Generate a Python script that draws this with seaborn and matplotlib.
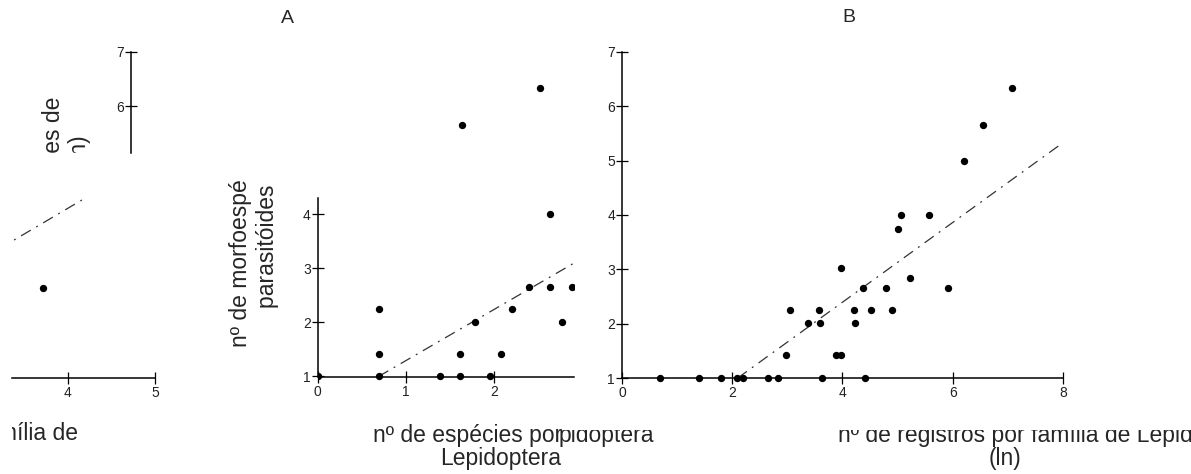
import numpy as np
import pandas as pd
import matplotlib
matplotlib.use("Agg")
import matplotlib.pyplot as plt
import seaborn as sns
from matplotlib.transforms import Bbox, TransformedBbox

# ---------------- data ----------------
# Panel A: nº de espécies por família de Lepidoptera (ln) vs nº de morfoespécies de parasitóides (ln)
a_x = [0.00, 0.69, 0.69, 0.69, 1.39, 1.61, 1.61, 1.95, 1.64, 1.79, 2.08, 2.20,
       2.40, 2.52, 2.64, 2.64, 2.77, 2.89, 3.71]
a_y = [1.00, 1.00, 1.42, 2.24, 1.00, 1.00, 1.42, 1.00, 5.64, 2.00, 1.42, 2.24,
       2.65, 6.32, 4.00, 2.65, 2.00, 2.65, 2.65]
a_fit_slope = 0.944
a_fit_intercept = 0.349
a_fit_x = [0.69, 4.17]

# Panel B: nº de registros por família de Lepidoptera (ln)
b_x = [0.69, 1.39, 1.79, 2.08, 2.20, 2.64, 2.83, 3.63, 4.41, 2.98, 3.04, 3.38,
       3.58, 3.60, 3.88, 3.98, 3.98, 4.21, 4.23, 4.38, 4.51, 4.79, 4.89, 5.01,
       5.07, 5.22, 5.57, 5.92, 6.20, 6.55, 7.08]
b_y = [1.00, 1.00, 1.00, 1.00, 1.00, 1.00, 1.00, 1.00, 1.00, 1.43, 2.245, 2.01,
       2.245, 2.01, 1.43, 1.43, 3.02, 2.245, 2.01, 2.66, 2.245, 2.66, 2.245, 3.75,
       4.00, 2.84, 4.00, 2.66, 5.00, 5.66, 6.34]
b_fit_slope = 0.734
b_fit_intercept = -0.541
b_fit_x = [2.10, 7.93]

a_xticks = [0, 1, 2]
a_yticks = [1, 2, 3, 4]
b_xticks = [0, 2, 4, 6, 8]
b_yticks = [1, 2, 3, 4, 5, 6, 7]
l_xticks = [4, 5]
l_yticks = [6, 7]

ylabel_text = "nº de morfoespécies de\nparasitóides (ln)"
xlabel_a = "nº de espécies por"
xlabel_a2 = "Lepidoptera"
xlabel_a_frag = "pidoptera"
xlabel_b = "nº de registros por família de Lepidoptera"
xlabel_b2 = "(ln)"
xlabel_left = "nº de espécies por família de"
title_a = "A"
title_b = "B"

# ---------------- style ----------------
sns.set_theme(style="white")
plt.rcParams['font.family'] = ['Liberation Sans', 'DejaVu Sans']
plt.rcParams['axes.edgecolor'] = 'black'

W, H = 1191, 474
fig = plt.figure(figsize=(W / 100, H / 100), dpi=100)
fig.patch.set_facecolor('white')

LBL = 16.5
TICKFONT = ['Liberation Sans Narrow', 'Liberation Sans', 'DejaVu Sans']


def add_axes_px(xp0, xv0, xp1, xv1, yp0, yv0, yp1, yv1, xlim, ylim):
    sx = (xp1 - xp0) / (xv1 - xv0)
    sy = (yp1 - yp0) / (yv1 - yv0)
    left = xp0 + (xlim[0] - xv0) * sx
    right = xp0 + (xlim[1] - xv0) * sx
    top = yp0 + (ylim[1] - yv0) * sy
    bottom = yp0 + (ylim[0] - yv0) * sy
    ax = fig.add_axes([left / W, 1 - bottom / H, (right - left) / W, (bottom - top) / H])
    ax.set_xlim(xlim)
    ax.set_ylim(ylim)
    ax.set_facecolor('none')
    return ax


def px_to_axes(ax, px, py):
    p = ax.get_position()
    fx, fy = px / W, 1 - py / H
    return (fx - p.x0) / p.width, (fy - p.y0) / p.height


def clip_px(artist, x0, y0, x1, y1):
    bb = Bbox.from_extents(x0 / W, 1 - y1 / H, x1 / W, 1 - y0 / H)
    artist.set_clip_box(TransformedBbox(bb, fig.transFigure))
    artist.set_clip_on(True)


def style_axes(ax, xticks, yticks, left_bounds, left_pos=None):
    ax.spines['top'].set_visible(False)
    ax.spines['right'].set_visible(False)
    ax.spines['bottom'].set_position(('data', 1))
    if left_pos is not None:
        ax.spines['left'].set_position(('data', left_pos))
    ax.spines['left'].set_bounds(*left_bounds)
    for s in ['left', 'bottom']:
        ax.spines[s].set_linewidth(1.1)
        ax.spines[s].set_color('black')
    ax.set_xticks(xticks)
    ax.set_yticks(yticks)
    ax.tick_params(axis='both', bottom=True, left=True, direction='inout',
                   length=8, width=0.9, color='black', labelsize=10,
                   labelcolor='#222222')
    ax.tick_params(axis='x', pad=2)
    ax.tick_params(axis='y', pad=1)
    for lab in ax.get_xticklabels() + ax.get_yticklabels():
        lab.set_family(TICKFONT)


line_kw = dict(color='#333333', linewidth=0.9, linestyle=(0, (9, 5, 1.5, 5)),
               estimator=None, legend=False)
pt_kw = dict(color='black', s=28, marker='o', linewidth=0, legend=False, zorder=3)

# ---------------- left partial panel ----------------
ax0 = add_axes_px(68, 4, 155, 5, 52, 7, 378, 1, (3.36, 5.0), (0.8, 7))
sns.lineplot(x=a_fit_x, y=[a_fit_intercept + a_fit_slope * v for v in a_fit_x], ax=ax0, **line_kw)
sns.scatterplot(x=a_x, y=a_y, ax=ax0, **pt_kw)
ax0.set_xlim(3.36, 5.0)
ax0.set_ylim(0.8, 7)
style_axes(ax0, l_xticks, l_yticks, (5.15, 7), left_pos=4.72)
ax0.set_ylabel(ylabel_text, fontsize=LBL, linespacing=1.2)
ax0.yaxis.set_label_coords(66.5 / W, 1 - 217 / H, transform=fig.transFigure)
ax0.yaxis.label.set(va='center', ha='center')
clip_px(ax0.yaxis.label, 0, 0, W, 153)
ax0.set_xlabel(xlabel_left, fontsize=LBL)
ax0.xaxis.set_label_coords(78 / W, 1 - 440 / H, transform=fig.transFigure)
ax0.xaxis.label.set(ha='right', va='baseline')
clip_px(ax0.xaxis.label, 12, 0, W, H)

# ---------------- panel A ----------------
axa = add_axes_px(317.7, 0, 494, 2, 376.5, 1, 214, 4, (0, 2.904), (0.8, 7))
sns.lineplot(x=a_fit_x, y=[a_fit_intercept + a_fit_slope * v for v in a_fit_x], ax=axa, **line_kw)
sns.scatterplot(x=a_x, y=a_y, ax=axa, **pt_kw)
axa.set_xlim(0, 2.904)
axa.set_ylim(0.8, 7)
style_axes(axa, a_xticks, a_yticks, (1, 4.3))
axa.set_ylabel(ylabel_text, fontsize=LBL, linespacing=1.2)
axa.yaxis.set_label_coords(254 / W, 1 - 227 / H, transform=fig.transFigure)
axa.yaxis.label.set(va='center', ha='center')
clip_px(axa.yaxis.label, 0, 180, W, H)
axa.set_xlabel(xlabel_a, fontsize=LBL)
axa.xaxis.set_label_coords(373 / W, 1 - 442 / H, transform=fig.transFigure)
axa.xaxis.label.set(ha='left', va='baseline')
tx, ty = px_to_axes(axa, 287, 18)
axa.set_title(title_a, x=tx, y=ty, va='center', ha='center', fontsize=14, pad=0)

fig.text(440 / W, 1 - 465 / H, xlabel_a2, ha='left', va='baseline', fontsize=LBL)
frag = fig.text(559 / W, 1 - 442 / H, xlabel_a_frag, ha='left', va='baseline', fontsize=LBL)
clip_px(frag, 557, 430, W, H)

# ---------------- panel B ----------------
axb = add_axes_px(622, 0, 1063, 8, 378, 1, 52, 7, (0, 8), (0.8, 7))
sns.lineplot(x=b_fit_x, y=[b_fit_intercept + b_fit_slope * v for v in b_fit_x], ax=axb, **line_kw)
sns.scatterplot(x=b_x, y=b_y, ax=axb, **pt_kw)
axb.set_xlim(0, 8)
axb.set_ylim(0.8, 7)
style_axes(axb, b_xticks, b_yticks, (1, 7))
axb.set_ylabel("")
axb.set_xlabel(xlabel_b, fontsize=LBL)
axb.xaxis.set_label_coords(838 / W, 1 - 442 / H, transform=fig.transFigure)
axb.xaxis.label.set(ha='left', va='baseline')
clip_px(axb.xaxis.label, 0, 429.5, W, H)
tx, ty = px_to_axes(axb, 849, 18)
axb.set_title(title_b, x=tx, y=ty, va='center', ha='center', fontsize=14, pad=0)
fig.text(1005 / W, 1 - 465 / H, xlabel_b2, ha='center', va='baseline', fontsize=LBL)

fig.savefig("out.png", dpi=100, facecolor='white')
